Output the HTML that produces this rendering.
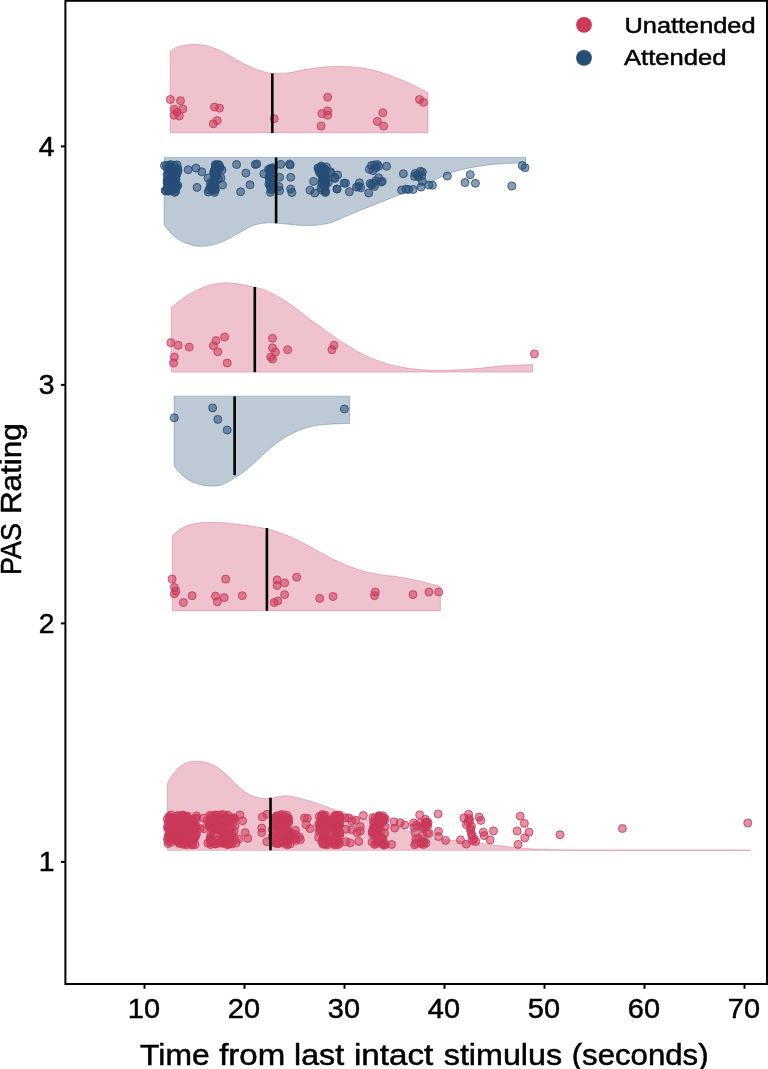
<!DOCTYPE html>
<html><head><meta charset="utf-8"><style>
html,body{margin:0;padding:0;background:#fff;}
body{width:768px;height:1069px;overflow:hidden;font-family:"Liberation Sans",sans-serif;}
svg{display:block;will-change:transform;}
</style></head><body>
<svg width="768" height="1069" viewBox="0 0 768 1069" font-family="Liberation Sans, sans-serif"><style>text{stroke:#000;stroke-width:0.5px;}</style><path d="M170.2,51.2 C171.5,50.5 174.4,47.8 178.2,46.7 C182.0,45.6 187.9,44.6 192.8,44.5 C197.7,44.4 202.5,44.8 207.4,45.9 C212.3,47.0 217.1,49.1 222.0,51.4 C226.9,53.7 231.8,57.2 236.6,59.8 C241.4,62.4 246.2,65.0 251.1,67.1 C255.9,69.2 262.1,71.2 265.7,72.2 C269.3,73.2 269.4,73.2 273.0,73.3 C276.6,73.4 282.1,73.5 287.6,72.9 C293.1,72.3 299.7,70.6 305.8,69.6 C311.9,68.6 317.9,67.6 324.0,67.1 C330.1,66.6 336.2,66.3 342.3,66.4 C348.4,66.5 354.4,67.0 360.5,67.8 C366.6,68.6 372.6,69.8 378.7,71.5 C384.8,73.2 390.9,75.6 397.0,78.0 C403.1,80.4 410.0,83.6 415.2,86.0 C420.4,88.4 425.9,91.5 428.0,92.6 L428.0,132.7 L170.2,132.7 Z" fill="#CA395A" fill-opacity="0.30" stroke="#CA395A" stroke-opacity="0.30" stroke-width="1"/><path d="M164.2,225.0 C165.2,226.3 168.1,230.4 170.4,232.8 C172.7,235.2 175.6,237.6 178.2,239.3 C180.8,241.0 182.5,242.0 186.0,243.2 C189.5,244.4 194.7,246.0 199.0,246.3 C203.3,246.6 207.8,245.9 212.1,245.0 C216.4,244.1 220.8,242.5 225.1,240.6 C229.4,238.7 233.8,235.9 238.1,233.5 C242.4,231.1 246.8,228.0 251.1,226.2 C255.4,224.5 260.1,223.6 264.2,223.1 C268.3,222.6 271.6,222.9 275.9,223.1 C280.2,223.3 285.6,224.0 290.2,224.4 C294.8,224.8 298.9,225.4 303.2,225.5 C307.5,225.6 311.9,225.6 316.2,225.2 C320.6,224.8 325.0,224.3 329.3,223.1 C333.6,221.9 337.9,219.7 342.3,217.9 C346.8,216.1 349.4,214.8 356.0,212.1 C362.6,209.4 374.3,204.8 382.1,201.7 C389.9,198.6 396.4,195.9 402.9,193.3 C409.4,190.7 415.9,188.2 421.1,186.0 C426.3,183.8 429.9,182.2 434.2,180.3 C438.5,178.4 442.9,176.0 447.2,174.3 C451.5,172.6 455.9,171.1 460.2,169.9 C464.5,168.7 468.9,168.1 473.2,167.3 C477.5,166.5 481.9,165.8 486.2,165.2 C490.6,164.6 494.1,164.2 499.3,163.9 C504.5,163.6 513.1,163.2 517.5,163.1 C521.9,162.9 524.4,163.0 525.8,163.0 L525.8,157.4 L164.2,157.4 Z" fill="#264E76" fill-opacity="0.30" stroke="#264E76" stroke-opacity="0.30" stroke-width="1"/><path d="M171.2,307.5 C172.5,306.5 175.4,304.0 178.8,301.6 C182.1,299.2 186.6,295.6 191.2,293.0 C195.9,290.4 201.7,287.5 206.9,285.9 C212.1,284.2 218.6,283.6 222.5,283.1 C226.4,282.6 227.2,282.9 230.3,283.1 C233.4,283.3 237.2,283.7 241.2,284.4 C245.3,285.1 250.8,286.3 254.5,287.2 C258.2,288.1 259.9,288.2 263.4,289.5 C266.8,290.8 271.3,292.8 275.2,294.9 C279.1,297.0 283.0,299.4 286.9,302.0 C290.8,304.6 294.7,307.3 298.6,310.2 C302.5,313.1 306.4,316.6 310.3,319.5 C314.2,322.4 318.1,324.9 322.0,327.7 C325.9,330.5 329.8,333.7 333.8,336.4 C337.7,339.1 341.6,341.6 345.5,344.1 C349.4,346.6 353.3,349.1 357.2,351.2 C361.1,353.3 365.0,355.2 368.9,357.0 C372.8,358.8 376.7,360.3 380.6,361.7 C384.5,363.1 388.4,364.2 392.3,365.2 C396.2,366.2 400.1,366.9 404.0,367.6 C407.9,368.3 411.5,368.8 415.8,369.2 C420.1,369.6 424.3,370.0 430.0,370.2 C435.7,370.4 441.7,370.5 450.0,370.2 C458.3,369.9 470.7,369.0 480.0,368.2 C489.3,367.4 497.2,366.2 506.0,365.6 C514.8,365.0 528.3,364.8 532.8,364.6 L532.8,372.1 L171.2,372.1 Z" fill="#CA395A" fill-opacity="0.30" stroke="#CA395A" stroke-opacity="0.30" stroke-width="1"/><path d="M174.1,466.1 C175.0,467.2 177.1,470.4 179.6,472.8 C182.1,475.2 185.7,478.5 189.3,480.5 C192.9,482.5 197.3,484.0 201.3,484.9 C205.3,485.8 209.8,486.2 213.4,486.1 C217.0,486.0 219.5,485.7 223.0,484.4 C226.5,483.1 230.6,480.6 234.6,478.1 C238.6,475.6 243.0,472.5 247.1,469.2 C251.2,465.9 255.1,462.0 259.1,458.4 C263.1,454.8 267.2,450.8 271.2,447.5 C275.2,444.2 279.2,441.2 283.2,438.6 C287.2,436.0 291.3,433.8 295.3,431.9 C299.3,430.0 303.3,428.6 307.3,427.5 C311.3,426.4 315.0,425.7 319.4,425.1 C323.8,424.5 328.8,424.2 333.8,423.9 C338.8,423.6 346.9,423.5 349.5,423.4 L349.5,396.2 L174.1,396.2 Z" fill="#264E76" fill-opacity="0.30" stroke="#264E76" stroke-opacity="0.30" stroke-width="1"/><path d="M172.3,536.0 C173.5,534.9 176.3,531.6 179.6,529.6 C182.9,527.6 187.1,525.3 192.3,524.1 C197.5,522.9 204.5,522.4 210.6,522.3 C216.7,522.1 222.7,522.7 228.8,523.2 C234.9,523.8 240.7,524.7 247.0,525.6 C253.3,526.5 260.6,527.3 266.7,528.7 C272.8,530.1 279.6,532.8 283.5,534.1 C287.4,535.4 287.2,535.5 290.0,536.7 C292.8,537.9 296.9,539.8 300.4,541.5 C303.9,543.2 307.3,545.2 310.8,547.1 C314.3,549.0 317.8,551.0 321.2,552.9 C324.7,554.8 328.2,556.8 331.7,558.5 C335.2,560.2 338.6,561.8 342.1,563.3 C345.6,564.8 349.0,566.2 352.5,567.5 C356.0,568.8 359.4,570.0 362.9,571.0 C366.4,572.0 369.8,572.6 373.3,573.3 C376.8,574.0 380.3,574.7 383.8,575.2 C387.2,575.7 390.7,575.8 394.2,576.2 C397.7,576.7 401.1,577.3 404.6,577.9 C408.1,578.5 411.5,579.2 415.0,580.0 C418.5,580.8 421.2,581.5 425.4,582.5 C429.6,583.5 437.9,585.6 440.4,586.2 L440.4,610.8 L172.3,610.8 Z" fill="#CA395A" fill-opacity="0.30" stroke="#CA395A" stroke-opacity="0.30" stroke-width="1"/><path d="M167.3,784.2 C167.8,783.2 168.8,780.3 170.4,777.9 C172.0,775.5 174.3,772.0 176.7,769.6 C179.1,767.2 181.9,764.7 185.0,763.3 C188.1,761.9 191.9,761.4 195.4,761.2 C198.9,761.1 202.3,761.4 205.8,762.3 C209.3,763.2 212.8,764.4 216.2,766.5 C219.7,768.6 223.2,771.7 226.7,774.8 C230.2,777.9 233.6,782.1 237.1,785.2 C240.6,788.3 244.0,791.4 247.5,793.5 C251.0,795.6 254.1,796.9 257.9,797.7 C261.7,798.5 266.6,798.5 270.4,798.3 C274.2,798.1 277.7,796.6 280.8,796.2 C283.9,795.9 285.7,795.6 289.2,796.0 C292.7,796.4 297.7,797.8 301.7,798.8 C305.7,799.8 308.9,800.7 313.0,802.0 C317.1,803.3 321.5,804.9 326.0,806.5 C330.5,808.1 335.2,809.9 340.0,811.5 C344.8,813.1 350.0,814.5 355.0,816.0 C360.0,817.5 362.1,818.3 370.0,820.5 C377.9,822.7 392.5,826.0 402.5,829.0 C412.5,832.0 422.2,836.4 430.0,838.2 C437.8,840.0 440.9,839.2 449.4,840.0 C457.9,840.8 470.7,842.1 480.8,843.2 C490.9,844.4 500.5,845.9 509.9,846.9 C519.3,847.9 525.3,848.7 537.0,849.2 C548.7,849.7 561.2,849.9 580.0,850.0 C598.8,850.1 621.6,850.1 650.0,850.1 C678.4,850.1 733.7,850.1 750.4,850.1 L750.4,850.3 L167.3,850.3 Z" fill="#CA395A" fill-opacity="0.30" stroke="#CA395A" stroke-opacity="0.30" stroke-width="1"/><g fill="#CA395A" fill-opacity="0.55" stroke="#CA395A" stroke-opacity="0.85" stroke-width="1"><circle cx="170.3" cy="99.5" r="4.0"/><circle cx="180.5" cy="100.7" r="4.0"/><circle cx="174.2" cy="109.3" r="4.0"/><circle cx="182.8" cy="108.9" r="4.0"/><circle cx="174.2" cy="115.2" r="4.0"/><circle cx="179.3" cy="116.0" r="4.0"/><circle cx="177.0" cy="112.0" r="4.0"/><circle cx="214.5" cy="107.0" r="4.0"/><circle cx="219.5" cy="108.1" r="4.0"/><circle cx="217.2" cy="120.6" r="4.0"/><circle cx="213.3" cy="123.8" r="4.0"/><circle cx="274.2" cy="118.7" r="4.0"/><circle cx="327.7" cy="97.2" r="4.0"/><circle cx="321.9" cy="113.6" r="4.0"/><circle cx="327.7" cy="110.9" r="4.0"/><circle cx="327.7" cy="115.2" r="4.0"/><circle cx="321.1" cy="126.1" r="4.0"/><circle cx="382.8" cy="112.8" r="4.0"/><circle cx="377.3" cy="121.4" r="4.0"/><circle cx="383.6" cy="126.1" r="4.0"/><circle cx="419.5" cy="99.5" r="4.0"/><circle cx="423.4" cy="102.3" r="4.0"/><circle cx="170.9" cy="342.7" r="4.0"/><circle cx="178.2" cy="345.3" r="4.0"/><circle cx="189.2" cy="347.1" r="4.0"/><circle cx="174.3" cy="357.0" r="4.0"/><circle cx="173.5" cy="363.0" r="4.0"/><circle cx="216.0" cy="340.6" r="4.0"/><circle cx="224.6" cy="337.0" r="4.0"/><circle cx="213.4" cy="345.8" r="4.0"/><circle cx="217.8" cy="351.8" r="4.0"/><circle cx="227.2" cy="363.0" r="4.0"/><circle cx="272.5" cy="338.3" r="4.0"/><circle cx="272.5" cy="347.9" r="4.0"/><circle cx="275.4" cy="352.1" r="4.0"/><circle cx="270.7" cy="357.0" r="4.0"/><circle cx="272.5" cy="359.1" r="4.0"/><circle cx="287.6" cy="349.7" r="4.0"/><circle cx="334.0" cy="345.3" r="4.0"/><circle cx="331.9" cy="349.7" r="4.0"/><circle cx="534.4" cy="353.9" r="4.0"/><circle cx="172.1" cy="579.1" r="4.0"/><circle cx="174.3" cy="587.4" r="4.0"/><circle cx="175.9" cy="591.2" r="4.0"/><circle cx="174.3" cy="593.8" r="4.0"/><circle cx="183.4" cy="602.5" r="4.0"/><circle cx="192.1" cy="595.7" r="4.0"/><circle cx="225.7" cy="579.1" r="4.0"/><circle cx="215.5" cy="596.1" r="4.0"/><circle cx="224.2" cy="597.6" r="4.0"/><circle cx="217.4" cy="601.8" r="4.0"/><circle cx="242.3" cy="595.7" r="4.0"/><circle cx="277.1" cy="579.9" r="4.0"/><circle cx="277.1" cy="585.5" r="4.0"/><circle cx="284.6" cy="582.9" r="4.0"/><circle cx="296.7" cy="577.2" r="4.0"/><circle cx="284.6" cy="594.6" r="4.0"/><circle cx="274.0" cy="602.5" r="4.0"/><circle cx="277.8" cy="601.0" r="4.0"/><circle cx="319.7" cy="598.4" r="4.0"/><circle cx="333.0" cy="596.5" r="4.0"/><circle cx="375.3" cy="592.0" r="4.0"/><circle cx="374.5" cy="595.7" r="4.0"/><circle cx="413.0" cy="594.6" r="4.0"/><circle cx="428.9" cy="592.0" r="4.0"/><circle cx="438.7" cy="592.0" r="4.0"/><circle cx="176.9" cy="819.1" r="4.0"/><circle cx="186.6" cy="816.7" r="4.0"/><circle cx="183.2" cy="825.7" r="4.0"/><circle cx="169.0" cy="830.0" r="4.0"/><circle cx="168.4" cy="827.7" r="4.0"/><circle cx="169.4" cy="817.3" r="4.0"/><circle cx="179.9" cy="839.7" r="4.0"/><circle cx="171.0" cy="821.3" r="4.0"/><circle cx="185.9" cy="843.4" r="4.0"/><circle cx="184.4" cy="826.6" r="4.0"/><circle cx="196.3" cy="815.9" r="4.0"/><circle cx="192.8" cy="823.3" r="4.0"/><circle cx="171.6" cy="818.1" r="4.0"/><circle cx="176.5" cy="839.4" r="4.0"/><circle cx="172.7" cy="832.2" r="4.0"/><circle cx="186.3" cy="825.9" r="4.0"/><circle cx="183.6" cy="816.4" r="4.0"/><circle cx="169.1" cy="820.8" r="4.0"/><circle cx="187.5" cy="827.5" r="4.0"/><circle cx="176.6" cy="832.4" r="4.0"/><circle cx="180.8" cy="823.6" r="4.0"/><circle cx="190.9" cy="835.8" r="4.0"/><circle cx="174.5" cy="832.0" r="4.0"/><circle cx="182.9" cy="841.2" r="4.0"/><circle cx="189.0" cy="823.3" r="4.0"/><circle cx="196.4" cy="818.1" r="4.0"/><circle cx="179.7" cy="837.6" r="4.0"/><circle cx="171.8" cy="829.4" r="4.0"/><circle cx="168.5" cy="834.9" r="4.0"/><circle cx="190.0" cy="832.0" r="4.0"/><circle cx="193.3" cy="824.1" r="4.0"/><circle cx="188.0" cy="832.6" r="4.0"/><circle cx="184.5" cy="828.4" r="4.0"/><circle cx="192.2" cy="843.3" r="4.0"/><circle cx="181.4" cy="834.8" r="4.0"/><circle cx="169.1" cy="835.9" r="4.0"/><circle cx="186.5" cy="844.8" r="4.0"/><circle cx="191.7" cy="823.2" r="4.0"/><circle cx="178.8" cy="834.9" r="4.0"/><circle cx="168.0" cy="828.6" r="4.0"/><circle cx="172.3" cy="818.1" r="4.0"/><circle cx="169.1" cy="837.9" r="4.0"/><circle cx="171.1" cy="822.1" r="4.0"/><circle cx="178.9" cy="841.1" r="4.0"/><circle cx="169.7" cy="828.2" r="4.0"/><circle cx="183.6" cy="841.4" r="4.0"/><circle cx="191.6" cy="840.9" r="4.0"/><circle cx="175.6" cy="827.2" r="4.0"/><circle cx="178.0" cy="841.5" r="4.0"/><circle cx="195.7" cy="819.1" r="4.0"/><circle cx="172.5" cy="821.6" r="4.0"/><circle cx="174.2" cy="829.3" r="4.0"/><circle cx="184.8" cy="822.5" r="4.0"/><circle cx="167.4" cy="827.3" r="4.0"/><circle cx="178.3" cy="831.8" r="4.0"/><circle cx="195.6" cy="835.6" r="4.0"/><circle cx="182.6" cy="833.3" r="4.0"/><circle cx="187.4" cy="816.1" r="4.0"/><circle cx="194.0" cy="838.3" r="4.0"/><circle cx="193.3" cy="838.8" r="4.0"/><circle cx="179.0" cy="826.7" r="4.0"/><circle cx="170.4" cy="833.8" r="4.0"/><circle cx="169.1" cy="816.6" r="4.0"/><circle cx="173.5" cy="819.5" r="4.0"/><circle cx="177.4" cy="816.1" r="4.0"/><circle cx="167.3" cy="819.1" r="4.0"/><circle cx="170.3" cy="825.6" r="4.0"/><circle cx="168.1" cy="841.2" r="4.0"/><circle cx="185.5" cy="819.0" r="4.0"/><circle cx="174.8" cy="825.1" r="4.0"/><circle cx="178.1" cy="818.2" r="4.0"/><circle cx="192.5" cy="844.8" r="4.0"/><circle cx="181.1" cy="829.3" r="4.0"/><circle cx="169.9" cy="817.6" r="4.0"/><circle cx="177.5" cy="822.6" r="4.0"/><circle cx="191.9" cy="819.4" r="4.0"/><circle cx="168.0" cy="843.5" r="4.0"/><circle cx="183.0" cy="819.0" r="4.0"/><circle cx="183.4" cy="815.3" r="4.0"/><circle cx="183.0" cy="844.3" r="4.0"/><circle cx="192.9" cy="835.7" r="4.0"/><circle cx="175.1" cy="825.7" r="4.0"/><circle cx="172.3" cy="838.0" r="4.0"/><circle cx="183.1" cy="838.3" r="4.0"/><circle cx="177.1" cy="821.3" r="4.0"/><circle cx="191.4" cy="844.5" r="4.0"/><circle cx="192.6" cy="839.1" r="4.0"/><circle cx="191.6" cy="837.1" r="4.0"/><circle cx="174.0" cy="830.3" r="4.0"/><circle cx="177.9" cy="815.4" r="4.0"/><circle cx="168.1" cy="823.0" r="4.0"/><circle cx="175.0" cy="835.6" r="4.0"/><circle cx="195.7" cy="828.1" r="4.0"/><circle cx="195.1" cy="844.6" r="4.0"/><circle cx="195.7" cy="825.6" r="4.0"/><circle cx="173.8" cy="821.4" r="4.0"/><circle cx="173.1" cy="820.7" r="4.0"/><circle cx="185.8" cy="842.0" r="4.0"/><circle cx="192.3" cy="829.1" r="4.0"/><circle cx="186.7" cy="838.9" r="4.0"/><circle cx="169.8" cy="834.6" r="4.0"/><circle cx="194.3" cy="838.4" r="4.0"/><circle cx="189.6" cy="829.1" r="4.0"/><circle cx="172.6" cy="838.6" r="4.0"/><circle cx="177.2" cy="838.9" r="4.0"/><circle cx="196.2" cy="826.6" r="4.0"/><circle cx="179.2" cy="843.4" r="4.0"/><circle cx="188.8" cy="819.7" r="4.0"/><circle cx="171.1" cy="819.1" r="4.0"/><circle cx="194.2" cy="839.1" r="4.0"/><circle cx="171.6" cy="839.7" r="4.0"/><circle cx="196.4" cy="834.5" r="4.0"/><circle cx="177.7" cy="831.2" r="4.0"/><circle cx="171.2" cy="814.9" r="4.0"/><circle cx="196.1" cy="834.3" r="4.0"/><circle cx="182.9" cy="843.0" r="4.0"/><circle cx="180.2" cy="841.1" r="4.0"/><circle cx="191.8" cy="820.9" r="4.0"/><circle cx="174.8" cy="823.4" r="4.0"/><circle cx="174.4" cy="832.4" r="4.0"/><circle cx="175.0" cy="827.3" r="4.0"/><circle cx="171.2" cy="842.3" r="4.0"/><circle cx="177.8" cy="828.5" r="4.0"/><circle cx="184.6" cy="842.1" r="4.0"/><circle cx="179.8" cy="842.5" r="4.0"/><circle cx="182.2" cy="830.7" r="4.0"/><circle cx="182.8" cy="815.1" r="4.0"/><circle cx="180.4" cy="820.1" r="4.0"/><circle cx="167.4" cy="838.9" r="4.0"/><circle cx="172.4" cy="828.9" r="4.0"/><circle cx="188.8" cy="831.5" r="4.0"/><circle cx="177.0" cy="830.3" r="4.0"/><circle cx="183.8" cy="838.4" r="4.0"/><circle cx="170.5" cy="831.6" r="4.0"/><circle cx="174.7" cy="822.9" r="4.0"/><circle cx="190.2" cy="830.0" r="4.0"/><circle cx="184.0" cy="837.7" r="4.0"/><circle cx="194.4" cy="828.0" r="4.0"/><circle cx="185.5" cy="829.9" r="4.0"/><circle cx="182.5" cy="835.6" r="4.0"/><circle cx="220.8" cy="830.8" r="4.0"/><circle cx="221.4" cy="843.2" r="4.0"/><circle cx="227.2" cy="841.2" r="4.0"/><circle cx="233.5" cy="822.4" r="4.0"/><circle cx="223.5" cy="843.3" r="4.0"/><circle cx="230.8" cy="818.7" r="4.0"/><circle cx="212.2" cy="828.0" r="4.0"/><circle cx="210.9" cy="821.8" r="4.0"/><circle cx="210.9" cy="834.9" r="4.0"/><circle cx="229.4" cy="841.9" r="4.0"/><circle cx="213.0" cy="836.3" r="4.0"/><circle cx="226.2" cy="818.9" r="4.0"/><circle cx="232.0" cy="844.0" r="4.0"/><circle cx="214.7" cy="843.6" r="4.0"/><circle cx="219.4" cy="829.4" r="4.0"/><circle cx="234.7" cy="839.9" r="4.0"/><circle cx="213.2" cy="827.7" r="4.0"/><circle cx="222.4" cy="824.8" r="4.0"/><circle cx="214.1" cy="824.2" r="4.0"/><circle cx="227.8" cy="815.1" r="4.0"/><circle cx="223.4" cy="827.9" r="4.0"/><circle cx="209.5" cy="824.6" r="4.0"/><circle cx="225.2" cy="830.1" r="4.0"/><circle cx="210.7" cy="844.5" r="4.0"/><circle cx="229.5" cy="844.1" r="4.0"/><circle cx="211.7" cy="822.6" r="4.0"/><circle cx="210.0" cy="838.3" r="4.0"/><circle cx="216.0" cy="818.5" r="4.0"/><circle cx="220.0" cy="842.3" r="4.0"/><circle cx="230.3" cy="822.4" r="4.0"/><circle cx="212.9" cy="842.5" r="4.0"/><circle cx="223.8" cy="835.9" r="4.0"/><circle cx="211.3" cy="816.3" r="4.0"/><circle cx="226.9" cy="827.5" r="4.0"/><circle cx="210.9" cy="843.1" r="4.0"/><circle cx="225.5" cy="838.9" r="4.0"/><circle cx="211.2" cy="840.6" r="4.0"/><circle cx="210.7" cy="840.8" r="4.0"/><circle cx="220.8" cy="824.8" r="4.0"/><circle cx="223.4" cy="842.8" r="4.0"/><circle cx="216.0" cy="818.4" r="4.0"/><circle cx="222.7" cy="821.8" r="4.0"/><circle cx="211.8" cy="819.4" r="4.0"/><circle cx="210.3" cy="820.7" r="4.0"/><circle cx="217.1" cy="823.8" r="4.0"/><circle cx="228.7" cy="823.3" r="4.0"/><circle cx="222.0" cy="819.9" r="4.0"/><circle cx="218.0" cy="815.1" r="4.0"/><circle cx="215.5" cy="815.0" r="4.0"/><circle cx="228.1" cy="831.3" r="4.0"/><circle cx="213.9" cy="829.0" r="4.0"/><circle cx="233.3" cy="817.7" r="4.0"/><circle cx="230.3" cy="827.7" r="4.0"/><circle cx="221.9" cy="840.0" r="4.0"/><circle cx="219.2" cy="830.0" r="4.0"/><circle cx="226.9" cy="844.5" r="4.0"/><circle cx="217.9" cy="839.9" r="4.0"/><circle cx="227.4" cy="833.9" r="4.0"/><circle cx="219.5" cy="825.1" r="4.0"/><circle cx="210.4" cy="818.5" r="4.0"/><circle cx="210.8" cy="837.1" r="4.0"/><circle cx="215.6" cy="819.5" r="4.0"/><circle cx="211.2" cy="840.2" r="4.0"/><circle cx="231.6" cy="835.0" r="4.0"/><circle cx="216.3" cy="821.9" r="4.0"/><circle cx="216.6" cy="828.5" r="4.0"/><circle cx="213.1" cy="828.1" r="4.0"/><circle cx="215.8" cy="843.8" r="4.0"/><circle cx="234.3" cy="831.2" r="4.0"/><circle cx="215.4" cy="844.0" r="4.0"/><circle cx="217.0" cy="825.4" r="4.0"/><circle cx="209.0" cy="826.1" r="4.0"/><circle cx="221.3" cy="829.8" r="4.0"/><circle cx="214.2" cy="829.9" r="4.0"/><circle cx="209.1" cy="822.6" r="4.0"/><circle cx="211.3" cy="826.7" r="4.0"/><circle cx="210.1" cy="815.2" r="4.0"/><circle cx="216.9" cy="821.6" r="4.0"/><circle cx="224.2" cy="830.6" r="4.0"/><circle cx="228.5" cy="834.6" r="4.0"/><circle cx="227.6" cy="841.3" r="4.0"/><circle cx="219.1" cy="824.4" r="4.0"/><circle cx="234.6" cy="819.1" r="4.0"/><circle cx="227.8" cy="834.1" r="4.0"/><circle cx="210.1" cy="840.0" r="4.0"/><circle cx="232.2" cy="833.6" r="4.0"/><circle cx="228.1" cy="839.3" r="4.0"/><circle cx="212.6" cy="830.5" r="4.0"/><circle cx="222.1" cy="840.0" r="4.0"/><circle cx="229.9" cy="839.7" r="4.0"/><circle cx="224.2" cy="841.7" r="4.0"/><circle cx="226.8" cy="835.6" r="4.0"/><circle cx="215.0" cy="815.5" r="4.0"/><circle cx="212.5" cy="825.5" r="4.0"/><circle cx="211.7" cy="840.0" r="4.0"/><circle cx="223.5" cy="833.6" r="4.0"/><circle cx="225.3" cy="835.3" r="4.0"/><circle cx="221.7" cy="814.6" r="4.0"/><circle cx="229.7" cy="837.3" r="4.0"/><circle cx="222.1" cy="830.8" r="4.0"/><circle cx="226.1" cy="816.5" r="4.0"/><circle cx="228.2" cy="822.2" r="4.0"/><circle cx="210.9" cy="822.6" r="4.0"/><circle cx="228.0" cy="820.8" r="4.0"/><circle cx="228.2" cy="844.3" r="4.0"/><circle cx="221.8" cy="826.2" r="4.0"/><circle cx="221.5" cy="835.4" r="4.0"/><circle cx="228.9" cy="833.3" r="4.0"/><circle cx="225.7" cy="816.9" r="4.0"/><circle cx="212.8" cy="822.2" r="4.0"/><circle cx="228.3" cy="823.8" r="4.0"/><circle cx="223.8" cy="814.9" r="4.0"/><circle cx="210.6" cy="822.7" r="4.0"/><circle cx="226.5" cy="835.6" r="4.0"/><circle cx="226.6" cy="823.4" r="4.0"/><circle cx="204.1" cy="828.7" r="4.0"/><circle cx="203.7" cy="818.1" r="4.0"/><circle cx="207.1" cy="820.6" r="4.0"/><circle cx="207.8" cy="843.1" r="4.0"/><circle cx="200.1" cy="828.5" r="4.0"/><circle cx="242.6" cy="820.8" r="4.0"/><circle cx="247.8" cy="838.4" r="4.0"/><circle cx="245.2" cy="832.6" r="4.0"/><circle cx="238.7" cy="839.0" r="4.0"/><circle cx="240.0" cy="815.0" r="4.0"/><circle cx="235.0" cy="826.0" r="4.0"/><circle cx="236.0" cy="843.0" r="4.0"/><circle cx="234.0" cy="818.0" r="4.0"/><circle cx="262.4" cy="816.9" r="4.0"/><circle cx="261.7" cy="828.0" r="4.0"/><circle cx="261.7" cy="832.6" r="4.0"/><circle cx="266.9" cy="814.3" r="4.0"/><circle cx="266.9" cy="841.7" r="4.0"/><circle cx="285.9" cy="844.0" r="4.0"/><circle cx="279.6" cy="822.7" r="4.0"/><circle cx="275.6" cy="843.3" r="4.0"/><circle cx="275.6" cy="832.2" r="4.0"/><circle cx="274.4" cy="830.5" r="4.0"/><circle cx="288.2" cy="818.5" r="4.0"/><circle cx="285.9" cy="830.0" r="4.0"/><circle cx="287.1" cy="836.0" r="4.0"/><circle cx="275.9" cy="841.9" r="4.0"/><circle cx="280.3" cy="815.3" r="4.0"/><circle cx="272.1" cy="829.5" r="4.0"/><circle cx="279.7" cy="823.7" r="4.0"/><circle cx="274.4" cy="825.0" r="4.0"/><circle cx="277.4" cy="840.1" r="4.0"/><circle cx="272.0" cy="837.4" r="4.0"/><circle cx="286.3" cy="818.2" r="4.0"/><circle cx="287.7" cy="836.2" r="4.0"/><circle cx="287.3" cy="823.3" r="4.0"/><circle cx="278.3" cy="826.5" r="4.0"/><circle cx="289.0" cy="832.5" r="4.0"/><circle cx="278.1" cy="827.6" r="4.0"/><circle cx="276.7" cy="816.0" r="4.0"/><circle cx="273.7" cy="840.0" r="4.0"/><circle cx="276.9" cy="843.0" r="4.0"/><circle cx="276.2" cy="822.6" r="4.0"/><circle cx="280.7" cy="820.3" r="4.0"/><circle cx="278.3" cy="843.7" r="4.0"/><circle cx="287.0" cy="839.3" r="4.0"/><circle cx="282.7" cy="842.4" r="4.0"/><circle cx="288.0" cy="831.3" r="4.0"/><circle cx="284.2" cy="816.0" r="4.0"/><circle cx="284.4" cy="828.3" r="4.0"/><circle cx="284.8" cy="834.2" r="4.0"/><circle cx="276.9" cy="816.0" r="4.0"/><circle cx="287.8" cy="818.4" r="4.0"/><circle cx="280.0" cy="825.0" r="4.0"/><circle cx="277.1" cy="837.0" r="4.0"/><circle cx="288.6" cy="822.4" r="4.0"/><circle cx="283.2" cy="823.7" r="4.0"/><circle cx="281.5" cy="826.5" r="4.0"/><circle cx="274.8" cy="819.4" r="4.0"/><circle cx="275.5" cy="842.1" r="4.0"/><circle cx="280.5" cy="821.2" r="4.0"/><circle cx="287.4" cy="844.9" r="4.0"/><circle cx="279.6" cy="818.8" r="4.0"/><circle cx="275.3" cy="817.3" r="4.0"/><circle cx="277.8" cy="817.3" r="4.0"/><circle cx="276.1" cy="822.4" r="4.0"/><circle cx="281.7" cy="841.6" r="4.0"/><circle cx="284.7" cy="827.1" r="4.0"/><circle cx="279.0" cy="830.5" r="4.0"/><circle cx="278.4" cy="824.8" r="4.0"/><circle cx="273.1" cy="823.0" r="4.0"/><circle cx="288.5" cy="818.3" r="4.0"/><circle cx="280.6" cy="833.7" r="4.0"/><circle cx="286.7" cy="821.1" r="4.0"/><circle cx="276.6" cy="822.1" r="4.0"/><circle cx="278.8" cy="828.1" r="4.0"/><circle cx="288.2" cy="840.4" r="4.0"/><circle cx="286.8" cy="815.2" r="4.0"/><circle cx="272.5" cy="836.1" r="4.0"/><circle cx="287.2" cy="828.9" r="4.0"/><circle cx="282.0" cy="814.5" r="4.0"/><circle cx="278.7" cy="842.8" r="4.0"/><circle cx="286.0" cy="840.6" r="4.0"/><circle cx="288.5" cy="822.1" r="4.0"/><circle cx="273.9" cy="819.2" r="4.0"/><circle cx="280.9" cy="835.3" r="4.0"/><circle cx="288.0" cy="836.5" r="4.0"/><circle cx="283.0" cy="837.8" r="4.0"/><circle cx="293.4" cy="838.3" r="4.0"/><circle cx="287.6" cy="841.7" r="4.0"/><circle cx="290.3" cy="843.8" r="4.0"/><circle cx="296.0" cy="834.6" r="4.0"/><circle cx="288.8" cy="833.8" r="4.0"/><circle cx="295.9" cy="840.5" r="4.0"/><circle cx="288.6" cy="831.1" r="4.0"/><circle cx="294.3" cy="838.7" r="4.0"/><circle cx="292.4" cy="833.4" r="4.0"/><circle cx="295.4" cy="830.2" r="4.0"/><circle cx="291.2" cy="836.9" r="4.0"/><circle cx="300.4" cy="839.7" r="4.0"/><circle cx="299.4" cy="837.1" r="4.0"/><circle cx="290.3" cy="833.7" r="4.0"/><circle cx="304.5" cy="818.0" r="4.0"/><circle cx="307.3" cy="818.2" r="4.0"/><circle cx="306.0" cy="824.7" r="4.0"/><circle cx="310.0" cy="828.6" r="4.0"/><circle cx="339.6" cy="836.0" r="4.0"/><circle cx="325.3" cy="815.2" r="4.0"/><circle cx="329.5" cy="835.1" r="4.0"/><circle cx="327.7" cy="822.3" r="4.0"/><circle cx="333.2" cy="842.7" r="4.0"/><circle cx="323.5" cy="815.5" r="4.0"/><circle cx="325.9" cy="827.3" r="4.0"/><circle cx="333.5" cy="820.5" r="4.0"/><circle cx="336.0" cy="837.0" r="4.0"/><circle cx="329.6" cy="820.8" r="4.0"/><circle cx="339.8" cy="824.0" r="4.0"/><circle cx="336.5" cy="821.5" r="4.0"/><circle cx="323.4" cy="837.7" r="4.0"/><circle cx="325.0" cy="843.5" r="4.0"/><circle cx="329.4" cy="820.2" r="4.0"/><circle cx="323.4" cy="827.2" r="4.0"/><circle cx="333.1" cy="843.4" r="4.0"/><circle cx="321.7" cy="826.5" r="4.0"/><circle cx="323.2" cy="844.2" r="4.0"/><circle cx="321.6" cy="816.1" r="4.0"/><circle cx="319.8" cy="826.5" r="4.0"/><circle cx="338.3" cy="841.4" r="4.0"/><circle cx="334.6" cy="844.9" r="4.0"/><circle cx="339.0" cy="824.5" r="4.0"/><circle cx="322.6" cy="843.0" r="4.0"/><circle cx="334.9" cy="815.5" r="4.0"/><circle cx="333.1" cy="826.0" r="4.0"/><circle cx="326.7" cy="824.6" r="4.0"/><circle cx="322.2" cy="814.6" r="4.0"/><circle cx="324.7" cy="825.2" r="4.0"/><circle cx="339.5" cy="818.3" r="4.0"/><circle cx="339.7" cy="820.8" r="4.0"/><circle cx="326.3" cy="839.6" r="4.0"/><circle cx="336.6" cy="827.7" r="4.0"/><circle cx="319.6" cy="828.9" r="4.0"/><circle cx="326.7" cy="842.5" r="4.0"/><circle cx="322.7" cy="825.6" r="4.0"/><circle cx="338.2" cy="815.4" r="4.0"/><circle cx="327.5" cy="839.3" r="4.0"/><circle cx="335.4" cy="815.7" r="4.0"/><circle cx="319.3" cy="816.4" r="4.0"/><circle cx="338.7" cy="822.3" r="4.0"/><circle cx="334.9" cy="841.9" r="4.0"/><circle cx="326.0" cy="822.8" r="4.0"/><circle cx="339.6" cy="833.3" r="4.0"/><circle cx="324.3" cy="836.4" r="4.0"/><circle cx="325.5" cy="822.9" r="4.0"/><circle cx="318.6" cy="837.5" r="4.0"/><circle cx="338.7" cy="833.8" r="4.0"/><circle cx="339.3" cy="815.2" r="4.0"/><circle cx="323.6" cy="829.0" r="4.0"/><circle cx="339.5" cy="843.6" r="4.0"/><circle cx="327.0" cy="822.2" r="4.0"/><circle cx="328.0" cy="829.6" r="4.0"/><circle cx="338.9" cy="820.1" r="4.0"/><circle cx="336.2" cy="837.0" r="4.0"/><circle cx="336.6" cy="838.1" r="4.0"/><circle cx="331.9" cy="824.5" r="4.0"/><circle cx="325.5" cy="825.5" r="4.0"/><circle cx="335.7" cy="816.9" r="4.0"/><circle cx="322.8" cy="837.5" r="4.0"/><circle cx="323.9" cy="816.5" r="4.0"/><circle cx="319.2" cy="831.4" r="4.0"/><circle cx="325.7" cy="844.4" r="4.0"/><circle cx="337.9" cy="844.6" r="4.0"/><circle cx="324.3" cy="817.1" r="4.0"/><circle cx="320.6" cy="829.7" r="4.0"/><circle cx="334.1" cy="828.1" r="4.0"/><circle cx="323.7" cy="827.2" r="4.0"/><circle cx="332.1" cy="835.1" r="4.0"/><circle cx="335.0" cy="840.3" r="4.0"/><circle cx="333.1" cy="818.2" r="4.0"/><circle cx="337.0" cy="823.5" r="4.0"/><circle cx="331.0" cy="825.9" r="4.0"/><circle cx="334.7" cy="820.6" r="4.0"/><circle cx="323.9" cy="822.0" r="4.0"/><circle cx="321.9" cy="841.5" r="4.0"/><circle cx="331.2" cy="824.5" r="4.0"/><circle cx="327.2" cy="844.8" r="4.0"/><circle cx="329.7" cy="821.6" r="4.0"/><circle cx="336.3" cy="834.4" r="4.0"/><circle cx="340.3" cy="817.6" r="4.0"/><circle cx="328.9" cy="839.5" r="4.0"/><circle cx="337.0" cy="842.4" r="4.0"/><circle cx="319.4" cy="823.5" r="4.0"/><circle cx="321.1" cy="820.3" r="4.0"/><circle cx="339.9" cy="832.3" r="4.0"/><circle cx="339.0" cy="825.9" r="4.0"/><circle cx="337.6" cy="828.2" r="4.0"/><circle cx="324.2" cy="838.2" r="4.0"/><circle cx="339.3" cy="817.7" r="4.0"/><circle cx="331.6" cy="833.4" r="4.0"/><circle cx="323.3" cy="825.7" r="4.0"/><circle cx="321.6" cy="820.7" r="4.0"/><circle cx="324.1" cy="832.8" r="4.0"/><circle cx="332.8" cy="820.7" r="4.0"/><circle cx="318.8" cy="824.5" r="4.0"/><circle cx="333.4" cy="820.1" r="4.0"/><circle cx="325.4" cy="820.7" r="4.0"/><circle cx="336.0" cy="831.2" r="4.0"/><circle cx="345.0" cy="818.2" r="4.0"/><circle cx="346.0" cy="829.3" r="4.0"/><circle cx="346.0" cy="841.7" r="4.0"/><circle cx="348.6" cy="818.0" r="4.0"/><circle cx="351.7" cy="821.1" r="4.0"/><circle cx="355.6" cy="820.3" r="4.0"/><circle cx="363.4" cy="815.6" r="4.0"/><circle cx="360.3" cy="826.6" r="4.0"/><circle cx="351.7" cy="829.7" r="4.0"/><circle cx="357.2" cy="832.8" r="4.0"/><circle cx="360.3" cy="831.2" r="4.0"/><circle cx="358.8" cy="841.4" r="4.0"/><circle cx="350.2" cy="843.0" r="4.0"/><circle cx="372.9" cy="817.6" r="4.0"/><circle cx="377.5" cy="831.3" r="4.0"/><circle cx="380.9" cy="817.3" r="4.0"/><circle cx="374.3" cy="835.7" r="4.0"/><circle cx="377.7" cy="823.1" r="4.0"/><circle cx="376.3" cy="843.6" r="4.0"/><circle cx="376.4" cy="831.8" r="4.0"/><circle cx="377.0" cy="827.2" r="4.0"/><circle cx="384.1" cy="844.9" r="4.0"/><circle cx="377.1" cy="820.5" r="4.0"/><circle cx="382.2" cy="820.7" r="4.0"/><circle cx="372.1" cy="842.0" r="4.0"/><circle cx="377.9" cy="839.5" r="4.0"/><circle cx="377.7" cy="841.4" r="4.0"/><circle cx="378.5" cy="819.5" r="4.0"/><circle cx="372.2" cy="831.3" r="4.0"/><circle cx="381.0" cy="842.2" r="4.0"/><circle cx="373.2" cy="833.5" r="4.0"/><circle cx="377.2" cy="829.9" r="4.0"/><circle cx="374.0" cy="823.1" r="4.0"/><circle cx="379.3" cy="842.7" r="4.0"/><circle cx="373.5" cy="829.5" r="4.0"/><circle cx="383.3" cy="844.0" r="4.0"/><circle cx="374.8" cy="818.4" r="4.0"/><circle cx="385.2" cy="844.3" r="4.0"/><circle cx="378.8" cy="816.1" r="4.0"/><circle cx="385.0" cy="826.3" r="4.0"/><circle cx="384.7" cy="833.4" r="4.0"/><circle cx="383.5" cy="819.4" r="4.0"/><circle cx="383.0" cy="821.3" r="4.0"/><circle cx="377.7" cy="840.3" r="4.0"/><circle cx="383.6" cy="820.1" r="4.0"/><circle cx="375.1" cy="826.7" r="4.0"/><circle cx="379.3" cy="826.2" r="4.0"/><circle cx="373.7" cy="822.0" r="4.0"/><circle cx="382.1" cy="841.9" r="4.0"/><circle cx="372.6" cy="831.7" r="4.0"/><circle cx="382.6" cy="815.7" r="4.0"/><circle cx="383.7" cy="818.1" r="4.0"/><circle cx="380.4" cy="831.3" r="4.0"/><circle cx="380.8" cy="823.8" r="4.0"/><circle cx="377.9" cy="832.3" r="4.0"/><circle cx="378.0" cy="834.6" r="4.0"/><circle cx="378.3" cy="827.9" r="4.0"/><circle cx="372.3" cy="833.4" r="4.0"/><circle cx="378.9" cy="821.7" r="4.0"/><circle cx="382.7" cy="838.3" r="4.0"/><circle cx="378.4" cy="820.0" r="4.0"/><circle cx="378.6" cy="817.8" r="4.0"/><circle cx="373.8" cy="827.6" r="4.0"/><circle cx="373.3" cy="828.0" r="4.0"/><circle cx="379.1" cy="815.7" r="4.0"/><circle cx="380.9" cy="817.0" r="4.0"/><circle cx="382.3" cy="838.2" r="4.0"/><circle cx="379.2" cy="816.2" r="4.0"/><circle cx="379.1" cy="826.0" r="4.0"/><circle cx="385.3" cy="818.7" r="4.0"/><circle cx="384.0" cy="844.9" r="4.0"/><circle cx="382.2" cy="839.4" r="4.0"/><circle cx="374.7" cy="844.4" r="4.0"/><circle cx="391.6" cy="844.5" r="4.0"/><circle cx="394.0" cy="821.9" r="4.0"/><circle cx="394.7" cy="828.1" r="4.0"/><circle cx="400.2" cy="822.7" r="4.0"/><circle cx="404.8" cy="825.0" r="4.0"/><circle cx="421.1" cy="843.8" r="4.0"/><circle cx="428.1" cy="822.5" r="4.0"/><circle cx="426.0" cy="843.1" r="4.0"/><circle cx="414.1" cy="827.5" r="4.0"/><circle cx="425.5" cy="822.3" r="4.0"/><circle cx="427.8" cy="825.4" r="4.0"/><circle cx="426.5" cy="821.9" r="4.0"/><circle cx="421.3" cy="842.8" r="4.0"/><circle cx="416.4" cy="825.1" r="4.0"/><circle cx="421.3" cy="826.6" r="4.0"/><circle cx="413.6" cy="822.9" r="4.0"/><circle cx="415.7" cy="843.3" r="4.0"/><circle cx="424.2" cy="842.2" r="4.0"/><circle cx="415.8" cy="839.2" r="4.0"/><circle cx="414.9" cy="832.3" r="4.0"/><circle cx="423.5" cy="827.7" r="4.0"/><circle cx="427.4" cy="833.0" r="4.0"/><circle cx="422.6" cy="841.8" r="4.0"/><circle cx="414.7" cy="844.8" r="4.0"/><circle cx="423.4" cy="828.6" r="4.0"/><circle cx="426.2" cy="825.1" r="4.0"/><circle cx="429.3" cy="833.6" r="4.0"/><circle cx="418.9" cy="838.6" r="4.0"/><circle cx="420.3" cy="822.8" r="4.0"/><circle cx="425.3" cy="819.3" r="4.0"/><circle cx="426.5" cy="824.8" r="4.0"/><circle cx="423.5" cy="844.6" r="4.0"/><circle cx="422.7" cy="835.9" r="4.0"/><circle cx="419.7" cy="814.8" r="4.0"/><circle cx="438.1" cy="814.0" r="4.0"/><circle cx="438.5" cy="831.4" r="4.0"/><circle cx="438.5" cy="836.5" r="4.0"/><circle cx="445.6" cy="840.4" r="4.0"/><circle cx="460.5" cy="839.9" r="4.0"/><circle cx="466.4" cy="844.1" r="4.0"/><circle cx="468.6" cy="814.3" r="4.0"/><circle cx="463.9" cy="817.9" r="4.0"/><circle cx="469.8" cy="820.4" r="4.0"/><circle cx="471.5" cy="826.3" r="4.0"/><circle cx="470.6" cy="830.5" r="4.0"/><circle cx="471.5" cy="833.9" r="4.0"/><circle cx="474.0" cy="839.0" r="4.0"/><circle cx="475.7" cy="841.5" r="4.0"/><circle cx="472.3" cy="840.7" r="4.0"/><circle cx="468.0" cy="822.0" r="4.0"/><circle cx="470.5" cy="828.5" r="4.0"/><circle cx="472.0" cy="836.0" r="4.0"/><circle cx="469.0" cy="818.5" r="4.0"/><circle cx="466.4" cy="824.6" r="4.0"/><circle cx="479.1" cy="817.0" r="4.0"/><circle cx="480.8" cy="820.4" r="4.0"/><circle cx="483.3" cy="832.2" r="4.0"/><circle cx="484.2" cy="835.6" r="4.0"/><circle cx="490.1" cy="839.9" r="4.0"/><circle cx="493.5" cy="830.9" r="4.0"/><circle cx="520.2" cy="816.2" r="4.0"/><circle cx="524.4" cy="823.4" r="4.0"/><circle cx="517.2" cy="831.0" r="4.0"/><circle cx="529.0" cy="832.2" r="4.0"/><circle cx="524.8" cy="837.8" r="4.0"/><circle cx="518.0" cy="844.4" r="4.0"/><circle cx="560.0" cy="834.7" r="4.0"/><circle cx="622.4" cy="828.5" r="4.0"/><circle cx="747.8" cy="823.0" r="4.0"/></g><g fill="#264E76" fill-opacity="0.55" stroke="#264E76" stroke-opacity="0.85" stroke-width="1"><circle cx="170.6" cy="164.6" r="4.0"/><circle cx="167.4" cy="168.8" r="4.0"/><circle cx="174.1" cy="176.8" r="4.0"/><circle cx="172.9" cy="190.0" r="4.0"/><circle cx="168.5" cy="171.0" r="4.0"/><circle cx="174.5" cy="165.1" r="4.0"/><circle cx="167.0" cy="174.6" r="4.0"/><circle cx="168.2" cy="174.7" r="4.0"/><circle cx="169.6" cy="181.1" r="4.0"/><circle cx="173.8" cy="170.3" r="4.0"/><circle cx="174.2" cy="178.0" r="4.0"/><circle cx="168.5" cy="191.2" r="4.0"/><circle cx="169.8" cy="168.8" r="4.0"/><circle cx="168.1" cy="182.7" r="4.0"/><circle cx="177.0" cy="186.8" r="4.0"/><circle cx="171.6" cy="172.0" r="4.0"/><circle cx="167.1" cy="182.9" r="4.0"/><circle cx="173.5" cy="174.5" r="4.0"/><circle cx="174.4" cy="177.1" r="4.0"/><circle cx="177.8" cy="185.4" r="4.0"/><circle cx="169.9" cy="190.2" r="4.0"/><circle cx="167.5" cy="179.6" r="4.0"/><circle cx="171.7" cy="171.3" r="4.0"/><circle cx="167.7" cy="186.7" r="4.0"/><circle cx="167.1" cy="180.2" r="4.0"/><circle cx="177.8" cy="168.6" r="4.0"/><circle cx="169.3" cy="181.8" r="4.0"/><circle cx="172.8" cy="182.8" r="4.0"/><circle cx="176.4" cy="169.5" r="4.0"/><circle cx="170.6" cy="173.1" r="4.0"/><circle cx="167.6" cy="189.8" r="4.0"/><circle cx="176.0" cy="184.9" r="4.0"/><circle cx="167.1" cy="188.6" r="4.0"/><circle cx="175.6" cy="177.8" r="4.0"/><circle cx="175.5" cy="177.4" r="4.0"/><circle cx="169.6" cy="167.5" r="4.0"/><circle cx="169.7" cy="165.6" r="4.0"/><circle cx="170.9" cy="185.9" r="4.0"/><circle cx="175.0" cy="188.6" r="4.0"/><circle cx="175.2" cy="172.1" r="4.0"/><circle cx="173.4" cy="176.9" r="4.0"/><circle cx="176.1" cy="179.4" r="4.0"/><circle cx="170.1" cy="182.8" r="4.0"/><circle cx="178.1" cy="170.7" r="4.0"/><circle cx="177.1" cy="164.9" r="4.0"/><circle cx="170.0" cy="171.2" r="4.0"/><circle cx="175.6" cy="191.4" r="4.0"/><circle cx="175.6" cy="173.8" r="4.0"/><circle cx="177.1" cy="173.9" r="4.0"/><circle cx="169.8" cy="190.4" r="4.0"/><circle cx="174.1" cy="184.2" r="4.0"/><circle cx="174.6" cy="192.4" r="4.0"/><circle cx="171.5" cy="188.4" r="4.0"/><circle cx="175.2" cy="188.9" r="4.0"/><circle cx="171.0" cy="185.2" r="4.0"/><circle cx="173.1" cy="173.3" r="4.0"/><circle cx="167.4" cy="182.2" r="4.0"/><circle cx="165.2" cy="190.5" r="4.0"/><circle cx="166.3" cy="165.3" r="4.0"/><circle cx="165.7" cy="191.0" r="4.0"/><circle cx="169.5" cy="168.5" r="4.0"/><circle cx="164.5" cy="165.7" r="4.0"/><circle cx="175.1" cy="182.6" r="4.0"/><circle cx="175.2" cy="185.5" r="4.0"/><circle cx="188.2" cy="169.7" r="4.0"/><circle cx="196.0" cy="168.1" r="4.0"/><circle cx="197.0" cy="187.4" r="4.0"/><circle cx="201.8" cy="171.8" r="4.0"/><circle cx="215.7" cy="166.4" r="4.0"/><circle cx="211.7" cy="187.8" r="4.0"/><circle cx="213.1" cy="187.9" r="4.0"/><circle cx="211.9" cy="189.2" r="4.0"/><circle cx="212.8" cy="190.6" r="4.0"/><circle cx="216.0" cy="170.4" r="4.0"/><circle cx="220.2" cy="167.7" r="4.0"/><circle cx="213.4" cy="187.6" r="4.0"/><circle cx="214.9" cy="182.6" r="4.0"/><circle cx="213.5" cy="172.7" r="4.0"/><circle cx="219.4" cy="167.3" r="4.0"/><circle cx="218.0" cy="170.3" r="4.0"/><circle cx="215.3" cy="173.6" r="4.0"/><circle cx="216.1" cy="171.8" r="4.0"/><circle cx="215.4" cy="172.6" r="4.0"/><circle cx="213.9" cy="173.6" r="4.0"/><circle cx="208.2" cy="192.0" r="4.0"/><circle cx="213.7" cy="182.1" r="4.0"/><circle cx="215.7" cy="165.4" r="4.0"/><circle cx="213.9" cy="186.5" r="4.0"/><circle cx="214.8" cy="174.4" r="4.0"/><circle cx="214.1" cy="170.7" r="4.0"/><circle cx="215.1" cy="189.1" r="4.0"/><circle cx="218.3" cy="169.4" r="4.0"/><circle cx="218.4" cy="164.5" r="4.0"/><circle cx="214.5" cy="192.4" r="4.0"/><circle cx="215.4" cy="164.6" r="4.0"/><circle cx="212.8" cy="187.2" r="4.0"/><circle cx="214.7" cy="169.8" r="4.0"/><circle cx="212.6" cy="188.2" r="4.0"/><circle cx="217.3" cy="171.9" r="4.0"/><circle cx="215.7" cy="170.6" r="4.0"/><circle cx="212.4" cy="184.4" r="4.0"/><circle cx="213.7" cy="182.6" r="4.0"/><circle cx="217.7" cy="166.8" r="4.0"/><circle cx="210.1" cy="186.9" r="4.0"/><circle cx="212.6" cy="182.4" r="4.0"/><circle cx="216.6" cy="175.7" r="4.0"/><circle cx="215.4" cy="189.9" r="4.0"/><circle cx="219.3" cy="165.2" r="4.0"/><circle cx="215.9" cy="170.4" r="4.0"/><circle cx="218.4" cy="178.8" r="4.0"/><circle cx="216.2" cy="175.3" r="4.0"/><circle cx="213.9" cy="177.6" r="4.0"/><circle cx="214.4" cy="179.6" r="4.0"/><circle cx="210.6" cy="182.9" r="4.0"/><circle cx="214.9" cy="174.4" r="4.0"/><circle cx="213.4" cy="188.5" r="4.0"/><circle cx="208.0" cy="178.0" r="4.0"/><circle cx="222.0" cy="170.0" r="4.0"/><circle cx="222.5" cy="185.0" r="4.0"/><circle cx="209.0" cy="190.0" r="4.0"/><circle cx="221.0" cy="178.0" r="4.0"/><circle cx="236.6" cy="164.5" r="4.0"/><circle cx="255.3" cy="164.5" r="4.0"/><circle cx="245.9" cy="173.1" r="4.0"/><circle cx="250.0" cy="184.8" r="4.0"/><circle cx="240.6" cy="191.8" r="4.0"/><circle cx="263.8" cy="173.8" r="4.0"/><circle cx="256.8" cy="164.0" r="4.0"/><circle cx="269.7" cy="169.7" r="4.0"/><circle cx="269.0" cy="177.3" r="4.0"/><circle cx="271.1" cy="168.5" r="4.0"/><circle cx="269.1" cy="177.9" r="4.0"/><circle cx="271.5" cy="170.4" r="4.0"/><circle cx="270.2" cy="173.4" r="4.0"/><circle cx="270.1" cy="169.3" r="4.0"/><circle cx="268.4" cy="169.4" r="4.0"/><circle cx="270.8" cy="179.6" r="4.0"/><circle cx="272.0" cy="169.5" r="4.0"/><circle cx="270.4" cy="192.3" r="4.0"/><circle cx="271.5" cy="185.4" r="4.0"/><circle cx="273.5" cy="167.8" r="4.0"/><circle cx="272.8" cy="175.8" r="4.0"/><circle cx="273.1" cy="185.5" r="4.0"/><circle cx="270.6" cy="177.2" r="4.0"/><circle cx="271.4" cy="168.0" r="4.0"/><circle cx="272.5" cy="170.8" r="4.0"/><circle cx="270.5" cy="176.2" r="4.0"/><circle cx="271.0" cy="187.1" r="4.0"/><circle cx="270.3" cy="182.7" r="4.0"/><circle cx="269.4" cy="178.0" r="4.0"/><circle cx="271.9" cy="176.3" r="4.0"/><circle cx="272.2" cy="185.7" r="4.0"/><circle cx="272.0" cy="181.1" r="4.0"/><circle cx="270.0" cy="186.0" r="4.0"/><circle cx="270.0" cy="185.2" r="4.0"/><circle cx="271.2" cy="189.6" r="4.0"/><circle cx="271.1" cy="188.9" r="4.0"/><circle cx="268.8" cy="184.0" r="4.0"/><circle cx="280.8" cy="164.4" r="4.0"/><circle cx="279.6" cy="177.3" r="4.0"/><circle cx="279.0" cy="186.6" r="4.0"/><circle cx="279.6" cy="190.7" r="4.0"/><circle cx="289.6" cy="164.0" r="4.0"/><circle cx="290.2" cy="165.0" r="4.0"/><circle cx="290.7" cy="177.3" r="4.0"/><circle cx="290.7" cy="189.0" r="4.0"/><circle cx="291.9" cy="192.5" r="4.0"/><circle cx="322.3" cy="175.5" r="4.0"/><circle cx="322.0" cy="183.1" r="4.0"/><circle cx="325.0" cy="186.8" r="4.0"/><circle cx="324.6" cy="185.1" r="4.0"/><circle cx="322.6" cy="178.2" r="4.0"/><circle cx="322.5" cy="178.9" r="4.0"/><circle cx="322.2" cy="184.2" r="4.0"/><circle cx="322.2" cy="190.3" r="4.0"/><circle cx="324.6" cy="186.7" r="4.0"/><circle cx="325.9" cy="177.3" r="4.0"/><circle cx="318.6" cy="168.9" r="4.0"/><circle cx="323.8" cy="181.0" r="4.0"/><circle cx="325.2" cy="190.6" r="4.0"/><circle cx="326.2" cy="180.5" r="4.0"/><circle cx="325.4" cy="181.0" r="4.0"/><circle cx="324.9" cy="185.2" r="4.0"/><circle cx="320.9" cy="187.9" r="4.0"/><circle cx="323.3" cy="180.5" r="4.0"/><circle cx="319.8" cy="173.0" r="4.0"/><circle cx="325.8" cy="184.4" r="4.0"/><circle cx="321.1" cy="170.9" r="4.0"/><circle cx="325.4" cy="191.6" r="4.0"/><circle cx="323.1" cy="174.6" r="4.0"/><circle cx="324.0" cy="177.6" r="4.0"/><circle cx="325.4" cy="178.1" r="4.0"/><circle cx="323.7" cy="184.8" r="4.0"/><circle cx="321.6" cy="167.1" r="4.0"/><circle cx="324.9" cy="173.0" r="4.0"/><circle cx="326.4" cy="167.0" r="4.0"/><circle cx="321.6" cy="173.7" r="4.0"/><circle cx="321.4" cy="166.0" r="4.0"/><circle cx="324.3" cy="173.4" r="4.0"/><circle cx="324.6" cy="169.9" r="4.0"/><circle cx="319.0" cy="171.0" r="4.0"/><circle cx="324.2" cy="168.6" r="4.0"/><circle cx="330.6" cy="171.8" r="4.0"/><circle cx="325.3" cy="169.9" r="4.0"/><circle cx="318.0" cy="167.9" r="4.0"/><circle cx="321.5" cy="174.1" r="4.0"/><circle cx="322.5" cy="168.6" r="4.0"/><circle cx="310.0" cy="190.2" r="4.0"/><circle cx="314.8" cy="193.0" r="4.0"/><circle cx="313.6" cy="181.4" r="4.0"/><circle cx="325.3" cy="192.5" r="4.0"/><circle cx="328.2" cy="182.5" r="4.0"/><circle cx="330.0" cy="172.6" r="4.0"/><circle cx="334.7" cy="177.3" r="4.0"/><circle cx="337.6" cy="174.9" r="4.0"/><circle cx="337.0" cy="189.0" r="4.0"/><circle cx="344.0" cy="183.1" r="4.0"/><circle cx="335.0" cy="178.5" r="4.0"/><circle cx="336.9" cy="189.0" r="4.0"/><circle cx="345.5" cy="183.2" r="4.0"/><circle cx="349.3" cy="191.8" r="4.0"/><circle cx="356.5" cy="187.1" r="4.0"/><circle cx="359.4" cy="182.8" r="4.0"/><circle cx="358.7" cy="186.4" r="4.0"/><circle cx="360.8" cy="187.8" r="4.0"/><circle cx="368.7" cy="193.0" r="4.0"/><circle cx="369.4" cy="169.2" r="4.0"/><circle cx="371.5" cy="165.6" r="4.0"/><circle cx="374.4" cy="164.9" r="4.0"/><circle cx="377.3" cy="164.5" r="4.0"/><circle cx="378.7" cy="166.3" r="4.0"/><circle cx="373.0" cy="170.6" r="4.0"/><circle cx="375.8" cy="167.8" r="4.0"/><circle cx="386.6" cy="166.3" r="4.0"/><circle cx="370.1" cy="183.5" r="4.0"/><circle cx="373.0" cy="183.5" r="4.0"/><circle cx="375.8" cy="180.7" r="4.0"/><circle cx="378.7" cy="177.8" r="4.0"/><circle cx="380.9" cy="182.1" r="4.0"/><circle cx="382.3" cy="181.4" r="4.0"/><circle cx="374.4" cy="186.4" r="4.0"/><circle cx="371.5" cy="185.0" r="4.0"/><circle cx="403.4" cy="173.8" r="4.0"/><circle cx="401.6" cy="190.0" r="4.0"/><circle cx="405.9" cy="189.2" r="4.0"/><circle cx="408.5" cy="189.5" r="4.0"/><circle cx="413.1" cy="189.5" r="4.0"/><circle cx="415.2" cy="173.5" r="4.0"/><circle cx="414.5" cy="176.4" r="4.0"/><circle cx="417.4" cy="174.9" r="4.0"/><circle cx="420.3" cy="171.3" r="4.0"/><circle cx="422.4" cy="172.1" r="4.0"/><circle cx="421.7" cy="175.6" r="4.0"/><circle cx="418.8" cy="177.1" r="4.0"/><circle cx="422.4" cy="181.4" r="4.0"/><circle cx="421.0" cy="187.1" r="4.0"/><circle cx="428.9" cy="185.0" r="4.0"/><circle cx="432.4" cy="185.2" r="4.0"/><circle cx="447.3" cy="176.0" r="4.0"/><circle cx="470.2" cy="174.7" r="4.0"/><circle cx="465.0" cy="182.6" r="4.0"/><circle cx="475.4" cy="183.3" r="4.0"/><circle cx="511.9" cy="186.0" r="4.0"/><circle cx="522.3" cy="165.6" r="4.0"/><circle cx="525.0" cy="167.7" r="4.0"/><circle cx="174.3" cy="417.8" r="4.0"/><circle cx="212.6" cy="407.9" r="4.0"/><circle cx="217.8" cy="419.4" r="4.0"/><circle cx="227.2" cy="430.0" r="4.0"/><circle cx="344.4" cy="409.0" r="4.0"/></g><line x1="272.3" y1="73.5" x2="272.3" y2="133.0" stroke="#000" stroke-width="2.6"/><line x1="276.1" y1="157.5" x2="276.1" y2="223.3" stroke="#000" stroke-width="2.6"/><line x1="254.8" y1="287.0" x2="254.8" y2="372.2" stroke="#000" stroke-width="2.6"/><line x1="234.6" y1="396.4" x2="234.6" y2="475.2" stroke="#000" stroke-width="2.6"/><line x1="266.9" y1="528.1" x2="266.9" y2="610.8" stroke="#000" stroke-width="2.6"/><line x1="270.5" y1="797.7" x2="270.5" y2="850.3" stroke="#000" stroke-width="2.6"/><rect x="65.4" y="0.8" width="701.6" height="983.2" fill="none" stroke="#000" stroke-width="2"/><line x1="60.9" y1="861.9" x2="65.4" y2="861.9" stroke="#000" stroke-width="2"/><text x="54.6" y="871.4" font-size="27" text-anchor="end" transform="translate(54.6,0) scale(1.05,1) translate(-54.6,0)">1</text><line x1="60.9" y1="623.4" x2="65.4" y2="623.4" stroke="#000" stroke-width="2"/><text x="54.6" y="632.9" font-size="27" text-anchor="end" transform="translate(54.6,0) scale(1.05,1) translate(-54.6,0)">2</text><line x1="60.9" y1="384.9" x2="65.4" y2="384.9" stroke="#000" stroke-width="2"/><text x="54.6" y="394.4" font-size="27" text-anchor="end" transform="translate(54.6,0) scale(1.05,1) translate(-54.6,0)">3</text><line x1="60.9" y1="146.4" x2="65.4" y2="146.4" stroke="#000" stroke-width="2"/><text x="54.6" y="155.9" font-size="27" text-anchor="end" transform="translate(54.6,0) scale(1.05,1) translate(-54.6,0)">4</text><line x1="144.5" y1="984" x2="144.5" y2="988.8" stroke="#000" stroke-width="2"/><text x="143.9" y="1018.2" font-size="27" text-anchor="middle" textLength="32.2" lengthAdjust="spacingAndGlyphs">10</text><line x1="244.5" y1="984" x2="244.5" y2="988.8" stroke="#000" stroke-width="2"/><text x="243.9" y="1018.2" font-size="27" text-anchor="middle" textLength="32.2" lengthAdjust="spacingAndGlyphs">20</text><line x1="344.5" y1="984" x2="344.5" y2="988.8" stroke="#000" stroke-width="2"/><text x="343.9" y="1018.2" font-size="27" text-anchor="middle" textLength="32.2" lengthAdjust="spacingAndGlyphs">30</text><line x1="444.5" y1="984" x2="444.5" y2="988.8" stroke="#000" stroke-width="2"/><text x="443.9" y="1018.2" font-size="27" text-anchor="middle" textLength="32.2" lengthAdjust="spacingAndGlyphs">40</text><line x1="544.5" y1="984" x2="544.5" y2="988.8" stroke="#000" stroke-width="2"/><text x="543.9" y="1018.2" font-size="27" text-anchor="middle" textLength="32.2" lengthAdjust="spacingAndGlyphs">50</text><line x1="644.5" y1="984" x2="644.5" y2="988.8" stroke="#000" stroke-width="2"/><text x="643.9" y="1018.2" font-size="27" text-anchor="middle" textLength="32.2" lengthAdjust="spacingAndGlyphs">60</text><line x1="744.5" y1="984" x2="744.5" y2="988.8" stroke="#000" stroke-width="2"/><text x="743.9" y="1018.2" font-size="27" text-anchor="middle" textLength="32.2" lengthAdjust="spacingAndGlyphs">70</text><text x="140.06" y="1065.30" font-size="29.50" textLength="69.56" lengthAdjust="spacingAndGlyphs">Time</text><text x="219.17" y="1065.30" font-size="29.50" textLength="66.11" lengthAdjust="spacingAndGlyphs">from</text><text x="294.07" y="1065.30" font-size="29.50" textLength="50.03" lengthAdjust="spacingAndGlyphs">last</text><text x="353.91" y="1065.30" font-size="29.50" textLength="79.40" lengthAdjust="spacingAndGlyphs">intact</text><text x="443.75" y="1065.30" font-size="29.50" textLength="118.33" lengthAdjust="spacingAndGlyphs">stimulus</text><text x="571.73" y="1065.30" font-size="29.50" textLength="136.86" lengthAdjust="spacingAndGlyphs">(seconds)</text><text transform="translate(21.40,574.90) rotate(-90)" font-size="29.50" textLength="51.79" lengthAdjust="spacingAndGlyphs">PAS</text><text transform="translate(21.40,514.12) rotate(-90)" font-size="29.50" textLength="90.92" lengthAdjust="spacingAndGlyphs">Rating</text><circle cx="584" cy="24.9" r="7.9" fill="#CA395A"/><circle cx="584" cy="57.8" r="7.9" fill="#264E76"/><text x="624.5" y="33" font-size="22.5" textLength="131" lengthAdjust="spacingAndGlyphs">Unattended</text><text x="624" y="65.2" font-size="22.5" textLength="102.5" lengthAdjust="spacingAndGlyphs">Attended</text></svg>
</body></html>
